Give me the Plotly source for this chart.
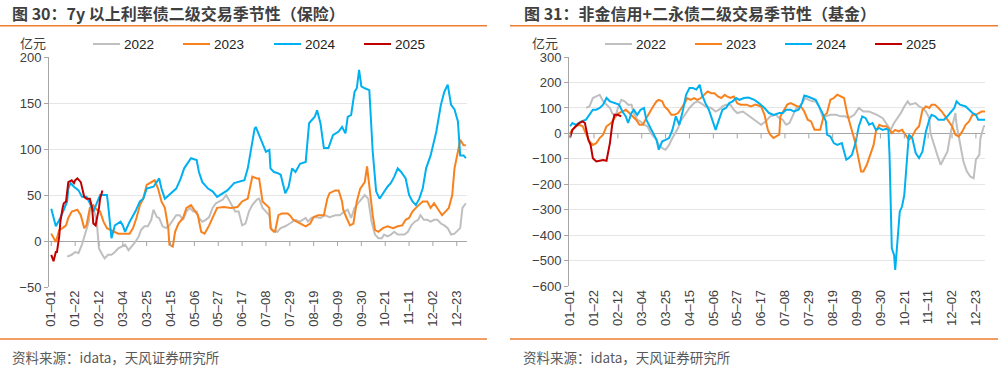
import plotly.graph_objects as go

W, H = 1006, 376

# ---------------- tick labels (day index in a leap-year calendar) ----------------
tick_days = [0, 21, 42, 63, 84, 105, 126, 147, 168, 189, 210, 231, 252, 273, 294, 315, 336, 357]
tick_text = ["01–01", "01–22", "02–12", "03–04", "03–25", "04–15", "05–06", "05–27", "06–17",
             "07–08", "07–29", "08–19", "09–09", "09–30", "10–21", "11–11", "12–02", "12–23"]

years = ["2022", "2023", "2024", "2025"]
colors = {"2022": "#BFBFBF", "2023": "#F7821E", "2024": "#00B0F0", "2025": "#C00000"}

# ---------------- Chart 30: 7y+ rate bonds, insurance (亿元) ----------------
L22_d = [14,18,21,24,27,30,33,34,37,40,42,45,47,50,53,56,59,62,65,68,71,74,77,79,82,85,88,90,93,95,
         98,101,104,107,110,113,116,119,122,125,128,130,133,136,139,142,145,148,151,154,157,160,162,165,
         168,171,174,177,181,183,186,189,192,194,199,202,206,210,215,219,224,226,229,232,237,241,245,250,
         254,258,261,264,267,270,273,276,279,282,285,288,291,293,296,299,302,305,308,311,314,317,320,323,
         325,328,331,334,337,340,343,346,349,352,355,358,360,362,365]
L22_v = [-17,-15,-12,-13,-4,8,21,32,37,21,-8,-15,-19,-15,-15,-12,-8,-6,-4,-10,-6,-1,5,12,16,16,23,34,26,25,
         16,14,17,23,28,28,23,32,36,32,32,25,21,23,26,36,41,43,45,50,43,36,32,32,17,19,32,39,45,46,
         36,32,28,12,10,14,16,19,23,21,25,21,25,26,25,28,26,28,28,32,34,25,36,41,46,50,46,21,7,3,
         3,7,5,7,10,7,7,7,10,17,21,23,28,23,23,21,23,23,19,17,14,7,8,12,14,36,41]

L23_d = [0,4,7,10,13,15,18,23,26,29,31,34,37,40,43,46,49,52,55,59,63,69,72,75,78,81,84,88,91,94,
         97,100,103,104,107,109,112,116,119,123,126,129,132,135,139,142,146,152,158,164,168,173,177,181,183,186,189,192,193,196,
         197,200,203,208,210,213,216,219,224,228,231,235,240,243,245,250,253,256,257,260,263,266,269,272,276,278,280,283,285,288,
         292,296,301,305,309,312,315,318,321,324,327,331,334,337,341,344,347,350,353,355,358,360,363,365]
L23_v = [8,-1,12,14,17,25,32,34,28,14,17,36,39,34,32,21,14,12,10,8,8,8,14,25,39,46,61,64,66,57,
         43,36,14,-4,-6,10,19,25,36,39,34,28,10,8,17,25,36,37,36,37,43,46,70,68,68,43,39,36,14,10,
         10,28,30,30,28,23,21,19,16,19,26,28,28,46,52,55,55,43,34,25,17,19,43,57,64,81,57,28,12,10,
         14,16,14,16,17,23,25,32,36,39,43,43,36,41,34,28,32,36,50,79,97,110,104,104]

L24_d = [0,4,8,11,14,15,17,20,24,27,31,34,37,43,49,50,53,56,61,63,65,69,74,78,81,84,90,95,97,100,
         104,110,114,117,123,128,130,133,138,142,146,151,155,161,165,170,173,176,179,180,183,186,189,192,193,196,199,202,205,206,
         209,212,215,219,224,227,229,232,234,237,240,244,248,253,256,259,261,264,267,269,271,273,276,280,283,286,289,293,296,299,
         302,305,308,312,315,318,321,324,327,330,334,339,343,346,349,352,355,358,359,360,363,365]
L24_v = [35,16,25,34,43,57,63,59,55,48,48,41,32,50,50,40,3,17,21,17,10,21,32,43,46,57,59,68,57,46,
         50,57,68,79,90,88,75,64,57,54,48,52,55,63,64,66,79,101,122,124,115,104,97,99,79,75,74,72,59,52,
         59,79,75,84,86,128,131,135,142,128,101,101,115,119,124,117,135,137,162,166,186,168,166,164,97,54,46,54,59,63,
         70,79,75,68,50,43,39,46,57,79,93,119,148,162,170,148,143,130,108,93,93,90]

L25_d = [0,2,4,5,7,8,10,11,13,14,15,18,20,21,23,26,29,31,34,36,37,39,40,42,43,45]
L25_v = [-15,-22,-12,-12,5,21,36,41,43,54,64,66,63,66,68,64,48,46,46,36,19,17,23,36,46,55]

# ---------------- Chart 31: non-financial credit + perpetual/tier-2, funds (亿元) ----------------
R22_d = [14,17,20,23,26,29,32,35,37,40,42,45,48,51,54,56,59,62,65,68,71,76,78,81,84,87,90,95,97,100,
         105,109,112,115,119,124,128,131,134,137,141,144,147,152,156,160,165,168,172,176,181,184,187,190,193,196,199,201,204,207,
         210,213,216,219,222,225,229,234,238,242,245,250,254,258,263,267,270,275,279,282,285,288,291,294,297,299,304,307,310,313,
         316,317,320,323,326,329,332,335,338,339,340,343,346,349,352,355,357,360,361,364,365]
R22_v = [100,106,139,145,152,126,113,100,80,67,100,132,126,113,113,80,54,47,34,28,1,-25,-45,-58,-64,-45,-18,21,47,67,
         100,119,126,119,106,100,86,93,106,113,113,93,80,86,73,60,41,34,47,67,73,60,54,34,41,73,100,100,119,139,
         132,126,126,106,67,67,73,73,67,67,60,73,100,86,86,80,73,60,34,14,41,60,80,106,126,113,119,106,100,86,
         60,1,-45,-84,-123,-97,-71,8,60,80,34,-31,-110,-149,-169,-176,-103,-84,-18,28,31]

R23_d = [0,2,5,8,11,14,17,20,23,26,29,32,36,40,43,46,49,52,55,58,61,64,67,70,73,76,78,81,83,86,
         89,92,95,97,100,103,106,109,112,115,118,121,124,127,130,133,136,138,141,144,147,150,155,159,163,168,171,174,176,179,
         182,184,185,188,191,194,197,200,203,206,209,212,215,218,220,223,226,229,232,235,238,241,244,247,251,256,258,261,264,267,
         269,272,275,278,280,283,286,289,292,295,298,301,304,307,310,313,316,318,321,324,327,330,333,336,339,342,345,348,351,354,
         357,360,362,365]
R23_v = [1,14,28,34,28,-5,-31,-45,-38,-18,-5,28,41,67,80,86,93,80,67,54,34,34,60,86,106,126,132,126,106,93,
         73,73,80,93,113,139,132,139,132,139,152,165,158,158,145,139,152,145,139,145,119,113,113,106,113,106,73,14,-5,-18,
         -10,-5,67,93,113,119,113,106,106,86,54,47,14,14,14,67,80,132,139,152,145,139,73,21,-38,-149,-149,-123,-84,-45,
         8,34,28,28,21,1,14,8,14,-5,-25,-12,14,28,93,106,100,113,113,100,86,67,47,28,-5,-12,8,34,47,73,
         73,80,86,86]

R24_d = [0,2,5,10,14,17,20,23,26,29,32,35,39,43,46,49,51,54,56,59,62,65,67,70,73,76,78,81,84,87,
         90,93,96,99,102,105,108,111,114,116,119,122,125,128,131,134,137,140,143,146,149,153,157,162,166,171,175,179,184,187,
         190,194,197,201,204,206,209,213,216,219,222,225,226,229,232,235,239,241,243,245,248,251,254,257,260,263,266,269,272,275,
         278,280,281,283,285,286,288,290,292,294,296,298,301,304,307,310,313,316,318,321,324,329,333,338,340,343,348,351,354,357,
         359,362,365]
R24_v = [28,41,34,47,54,73,93,93,100,113,139,126,119,113,86,67,41,80,93,73,93,100,54,28,1,-25,-64,-31,-25,-18,
         14,67,34,86,152,178,178,172,191,152,119,93,54,14,54,93,100,119,126,139,132,139,141,132,119,100,80,73,80,80,
         93,93,86,93,119,149,145,139,132,106,80,47,-5,-12,-38,-45,-38,-71,-103,-97,-84,-38,28,67,60,34,41,14,21,14,
         18,14,-84,-451,-477,-536,-424,-307,-287,-241,-123,-5,-18,-77,-97,-71,8,54,73,67,54,54,73,100,126,113,106,93,80,73,
         54,54,54]

R25_d = [0,2,5,8,11,13,16,17,18,20,23,26,29,32,33,35,37,39,42,45]
R25_v = [-16,14,28,41,47,41,-25,-38,-45,-97,-110,-107,-104,-107,-84,-38,34,73,73,67]

left_series = {"2022": (L22_d, L22_v), "2023": (L23_d, L23_v), "2024": (L24_d, L24_v), "2025": (L25_d, L25_v)}
right_series = {"2022": (R22_d, R22_v), "2023": (R23_d, R23_v), "2024": (R24_d, R24_v), "2025": (R25_d, R25_v)}
for s in (left_series, right_series):
    for k, (d, v) in s.items():
        assert len(d) == len(v), (k, len(d), len(v))

titles = ["图 30：7y 以上利率债二级交易季节性（保险）", "图 31：非金信用+二永债二级交易季节性（基金）"]
unit_label = "亿元"
source_text = "资料来源：idata，天风证券研究所"

# ---------------- helpers (pixel -> paper) ----------------
def fx(px):
    return px / W

def fy(py):
    return 1 - py / H

fig = go.Figure()
for yr in years:
    d, v = left_series[yr]
    fig.add_trace(go.Scatter(x=d, y=v, mode="lines", name=yr, xaxis="x", yaxis="y",
                             line=dict(color=colors[yr], width=2), showlegend=False))
for yr in years:
    d, v = right_series[yr]
    fig.add_trace(go.Scatter(x=d, y=v, mode="lines", name=yr, xaxis="x2", yaxis="y2",
                             line=dict(color=colors[yr], width=2), showlegend=False))

TXT = "#404040"
AX = "#A6A6A6"
GRID = "#E6E6E6"
tickfont = dict(family="Liberation Sans, Arial, sans-serif", size=13, color=TXT)

xcommon = dict(tickmode="array", tickvals=tick_days, ticktext=tick_text, tickangle=-90,
               showgrid=False, zeroline=False, showline=False, ticks="", tickfont=tickfont,
               automargin=False)
ycommon = dict(showgrid=True, gridcolor=GRID, gridwidth=1, zeroline=True, zerolinecolor=AX,
               zerolinewidth=1, showline=True, linecolor=AX, linewidth=1, ticks="outside",
               ticklen=4, tickcolor=AX, tickfont=tickfont, automargin=False)

fig.update_layout(
    width=W, height=H, margin=dict(l=0, r=0, t=0, b=0, autoexpand=False),
    paper_bgcolor="white", plot_bgcolor="white", showlegend=False,
    xaxis=dict(domain=[fx(49), fx(467)], range=[-2, 366], anchor="y", **xcommon),
    yaxis=dict(domain=[fy(287), fy(57)], range=[-50, 200], dtick=50, anchor="x", **ycommon),
    xaxis2=dict(domain=[fx(569), fx(985)], range=[-1, 365], anchor="y2", **xcommon),
    yaxis2=dict(domain=[fy(286.3), fy(57)], range=[-600, 300], dtick=100, anchor="x2", **ycommon),
)

shapes = []
# tick marks on the zero line
for xr, yr_ in (("x", "y"), ("x2", "y2")):
    for t in tick_days:
        shapes.append(dict(type="line", xref=xr, yref=yr_, x0=t, x1=t, y0=0, y1=-5,
                           ysizemode="pixel", yanchor=0, line=dict(color=AX, width=1)))

ORANGE_RULE = "#ED7D31"
panels = [
    dict(x0=0, x1=487, title_x=10, unit_cx=33, leg=[93, 183, 274, 364], src_x=10),
    dict(x0=510, x1=998, title_x=522, unit_cx=545, leg=[605, 695, 785, 875], src_x=521),
]
annotations = []
for i, p in enumerate(panels):
    for ry in (25.7, 339):
        shapes.append(dict(type="line", xref="paper", yref="paper", x0=fx(p["x0"]), x1=fx(p["x1"]),
                           y0=fy(ry), y1=fy(ry), line=dict(color=ORANGE_RULE, width=1.5)))
    annotations.append(dict(text="<b>" + titles[i] + "</b>", xref="paper", yref="paper",
                            x=fx(p["title_x"]), y=fy(13), xanchor="left", yanchor="middle", showarrow=False,
                            font=dict(family="Noto Sans CJK SC", size=16, color="#3F3F3F")))
    annotations.append(dict(text=unit_label, xref="paper", yref="paper", x=fx(p["unit_cx"]), y=fy(42.5),
                            xanchor="center", yanchor="middle", showarrow=False,
                            font=dict(family="Noto Sans CJK SC", size=13, color=TXT)))
    for yr, lx in zip(years, p["leg"]):
        shapes.append(dict(type="line", xref="paper", yref="paper", x0=fx(lx), x1=fx(lx + 27),
                           y0=fy(44), y1=fy(44), line=dict(color=colors[yr], width=2)))
        annotations.append(dict(text=yr, xref="paper", yref="paper", x=fx(lx + 29), y=fy(44),
                                xanchor="left", yanchor="middle", showarrow=False,
                                font=dict(family="Liberation Sans, Arial, sans-serif", size=13.5, color="#222222")))
    annotations.append(dict(text=source_text, xref="paper", yref="paper", x=fx(p["src_x"]), y=fy(357),
                            xanchor="left", yanchor="middle", showarrow=False,
                            font=dict(family="Noto Sans CJK SC", size=13.5, color="#595959")))

fig.update_layout(shapes=shapes, annotations=annotations)
fig.write_html("out.html", config={"displayModeBar": False},
               post_script="document.body.style.margin='0';document.body.style.padding='0';")
